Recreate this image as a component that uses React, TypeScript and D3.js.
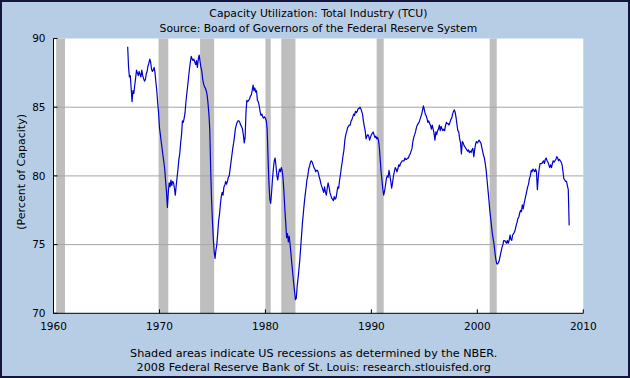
import React from "react";
import * as d3 from "d3";

const W = 630;
const H = 378;

const title1 = "Capacity Utilization: Total Industry (TCU)";
const title2 = "Source: Board of Governors of the Federal Reserve System";
const yTitle = "(Percent of Capacity)";
const note1 = "Shaded areas indicate US recessions as determined by the NBER.";
const note2 = "2008 Federal Reserve Bank of St. Louis: research.stlouisfed.org";

const xTicks = [1960, 1970, 1980, 1990, 2000, 2010];
const yTicks = [70, 75, 80, 85, 90];

const recessionPeaks = ["1960-04", "1969-12", "1973-11", "1980-01", "1981-07", "1990-07", "2001-03"];
const recessionTroughs = ["1961-02", "1970-11", "1975-03", "1980-07", "1982-11", "1991-03", "2001-11"];

const seriesStartYear = 1967; // monthly, starting January 1967

const tcu1960s = [
  89.4, 87.9, 87.2, 87.3, 86.4, 85.4, 86.2, 86.0, 86.6, 87.1, 87.7, 87.5, // 1967
  87.3, 87.6, 87.4, 87.2, 87.7, 87.3, 87.1, 86.9, 87.0, 87.4, 87.6, 88.0, // 1968
  88.2, 88.5, 88.3, 87.8, 87.6, 87.7, 87.9, 87.5, 86.8, 86.2, 85.3, 84.6, // 1969
];
const tcu1970s = [
  83.5, 83.0, 82.5, 82.0, 81.5, 81.0, 80.5, 79.6, 78.8, 77.7, 78.8, 79.5, // 1970
  79.2, 79.7, 79.3, 79.6, 79.5, 79.1, 78.6, 79.3, 79.9, 80.5, 81.2, 81.6, // 1971
  82.4, 83.0, 84.0, 83.9, 84.2, 84.6, 85.4, 86.0, 86.6, 87.2, 87.8, 88.3, // 1972
  88.7, 88.5, 88.4, 88.5, 88.3, 88.1, 88.4, 87.9, 88.5, 88.8, 88.3, 87.9, // 1973
  87.6, 87.0, 86.7, 86.5, 86.4, 86.2, 85.9, 85.3, 84.5, 83.4, 80.5, 78.3, // 1974
  76.7, 75.4, 74.5, 74.0, 74.6, 75.0, 75.8, 76.7, 77.2, 77.9, 78.5, 78.8, // 1975
  78.6, 79.2, 79.3, 79.6, 79.4, 79.6, 79.9, 80.0, 80.5, 81.0, 81.5, 82.0, // 1976
  82.4, 82.9, 83.4, 83.7, 83.9, 84.0, 84.0, 83.9, 83.7, 83.6, 83.4, 83.0, // 1977
  82.4, 82.8, 84.6, 85.5, 85.4, 85.5, 85.6, 85.8, 85.9, 86.2, 86.6, 86.2, // 1978
  86.4, 86.1, 86.2, 85.5, 85.4, 85.1, 84.7, 84.4, 84.5, 84.3, 84.2, 84.3, // 1979
];
const tcu1980s = [
  84.2, 84.0, 83.4, 81.3, 79.5, 78.3, 78.0, 78.8, 79.8, 80.5, 81.1, 81.3, // 1980
  80.7, 80.0, 79.7, 80.2, 80.5, 80.3, 80.6, 80.4, 79.8, 78.8, 77.6, 76.6, // 1981
  75.5, 75.8, 75.2, 75.6, 75.0, 74.3, 73.6, 72.9, 72.2, 71.6, 71.0, 71.1, // 1982
  72.0, 72.6, 73.2, 73.9, 74.8, 75.7, 76.6, 77.3, 78.0, 78.6, 79.1, 79.7, // 1983
  80.0, 80.5, 80.7, 81.0, 81.1, 81.0, 80.8, 80.6, 80.5, 80.3, 80.4, 80.4, // 1984
  80.2, 79.9, 79.7, 79.4, 79.2, 79.0, 78.8, 79.2, 78.8, 78.6, 79.1, 79.5, // 1985
  79.2, 78.8, 78.6, 78.4, 78.3, 78.2, 78.5, 78.3, 78.4, 78.8, 79.2, 79.1, // 1986
  79.7, 80.1, 80.6, 81.0, 81.5, 81.9, 82.6, 83.0, 83.2, 83.5, 83.6, 83.7, // 1987
  83.7, 84.0, 84.1, 84.3, 84.5, 84.4, 84.7, 84.6, 84.7, 84.9, 84.9, 85.0, // 1988
  84.9, 84.7, 84.5, 84.0, 83.6, 83.3, 82.7, 82.9, 83.0, 82.9, 82.6, 82.8, // 1989
];
const tcu1990s = [
  83.0, 83.1, 83.2, 83.0, 82.8, 82.9, 82.7, 82.8, 82.6, 82.1, 81.2, 80.3, // 1990
  79.7, 79.0, 78.6, 78.9, 79.3, 79.8, 80.0, 79.9, 80.4, 80.0, 79.6, 79.1, // 1991
  79.5, 80.0, 80.3, 80.6, 80.5, 80.3, 80.5, 80.8, 80.7, 80.9, 81.0, 81.1, // 1992
  81.1, 81.1, 81.3, 81.2, 81.2, 81.3, 81.3, 81.5, 81.6, 81.8, 82.0, 82.5, // 1993
  82.8, 83.0, 83.2, 83.5, 83.7, 83.8, 83.9, 84.1, 84.3, 84.5, 84.8, 85.1, // 1994
  84.8, 84.5, 84.4, 84.2, 83.9, 84.0, 83.8, 83.7, 83.4, 83.7, 83.4, 83.1, // 1995
  82.6, 83.2, 83.0, 83.3, 83.4, 83.7, 83.3, 83.6, 83.4, 83.3, 83.4, 83.3, // 1996
  83.7, 83.9, 83.8, 83.8, 83.7, 83.9, 84.1, 84.2, 84.5, 84.7, 84.8, 84.6, // 1997
  84.2, 83.7, 83.3, 83.2, 82.7, 82.4, 81.6, 82.5, 82.4, 82.2, 82.1, 82.0, // 1998
  81.9, 81.8, 81.9, 81.7, 81.8, 81.7, 81.9, 82.0, 81.4, 81.9, 82.3, 82.5, // 1999
];
const tcu2000s = [
  82.4, 82.5, 82.6, 82.5, 82.4, 82.1, 81.8, 81.5, 81.3, 80.9, 80.4, 79.7, // 2000
  79.0, 78.3, 77.6, 77.0, 76.4, 75.8, 75.4, 75.0, 74.4, 73.9, 73.6, 73.6, // 2001
  73.7, 73.9, 74.2, 74.5, 74.8, 75.0, 75.3, 75.3, 75.2, 75.1, 75.3, 75.1, // 2002
  75.3, 75.7, 75.4, 75.3, 75.7, 75.8, 75.9, 76.1, 76.4, 76.6, 76.9, 77.0, // 2003
  77.3, 77.5, 77.4, 77.9, 77.6, 78.0, 78.3, 78.6, 78.9, 79.2, 79.4, 79.8, // 2004
  80.0, 80.4, 80.3, 80.5, 80.4, 80.3, 80.5, 80.3, 79.0, 79.9, 80.5, 80.9, // 2005
  80.9, 80.9, 81.0, 81.1, 80.9, 81.2, 81.3, 81.1, 81.0, 80.8, 80.6, 80.8, // 2006
  80.6, 80.9, 81.1, 81.0, 81.1, 81.2, 81.4, 81.3, 81.1, 81.2, 81.1, 81.0, // 2007
  80.8, 80.3, 79.8, 79.7, 79.6, 79.6, 79.3, 79.0, 76.4, // 2008
];

const FONT = "'DejaVu Sans', Verdana, Tahoma, sans-serif";
const BG = "#B7CDE6";

const parseMonth = (s: string) => {
  const [y, m] = s.split("-").map(Number);
  return new Date(y, m - 1, 1);
};

export default function App() {
  const values = [...tcu1960s, ...tcu1970s, ...tcu1980s, ...tcu1990s, ...tcu2000s];
  const data = values.map((v, i) => ({ date: new Date(seriesStartYear, i, 1), value: v }));

  const left = 53.5;
  const right = 583.3;
  const top = 38.5;
  const bottom = 313.3;

  const x = d3
    .scaleTime()
    .domain([new Date(xTicks[0], 0, 1), new Date(xTicks[xTicks.length - 1], 0, 1)])
    .range([left, right]);
  const y = d3.scaleLinear().domain([70, 90]).range([bottom, top]);

  const line = d3
    .line<{ date: Date; value: number }>()
    .x((d) => x(d.date))
    .y((d) => y(d.value));

  const bands = recessionPeaks.map((p, i) => ({
    x0: x(parseMonth(p)),
    x1: x(parseMonth(recessionTroughs[i])),
  }));

  const cx = (left + right) / 2;

  return (
    <div style={{ position: "fixed", left: 0, top: 0, width: W, height: H }}>
      <svg width={W} height={H} style={{ display: "block" }} fontFamily={FONT}>
        <rect x={1} y={1} width={W - 2} height={H - 2} fill={BG} stroke="#14143c" strokeWidth={2} />
        <rect x={left} y={top} width={right - left} height={bottom - top} fill="#ffffff" />
        {bands.map((b, i) => (
          <rect key={i} x={b.x0} y={top} width={Math.max(1, b.x1 - b.x0)} height={bottom - top} fill="#BEBEBE" />
        ))}
        {yTicks
          .filter((t) => t !== 70 && t !== 90)
          .map((t) => (
            <line key={t} x1={left} x2={right} y1={y(t)} y2={y(t)} stroke="#A6A6A6" strokeWidth={1} />
          ))}
        <path d={line(data) ?? ""} fill="none" stroke="#0000CC" strokeWidth={1.2} strokeLinejoin="round" />
        {/* axes */}
        <line x1={left} x2={left} y1={top} y2={bottom} stroke="#000" strokeWidth={1} />
        <line x1={left} x2={right} y1={bottom} y2={bottom} stroke="#000" strokeWidth={1} />
        {yTicks.map((t) => (
          <g key={t}>
            <line x1={left} x2={left + 4} y1={y(t)} y2={y(t)} stroke="#000" strokeWidth={1} />
            <text x={45.5} y={y(t)} dy="0.35em" textAnchor="end" fontSize={10.5} fill="#000">
              {t}
            </text>
          </g>
        ))}
        {xTicks.map((t) => {
          const xx = x(new Date(t, 0, 1));
          return (
            <g key={t}>
              <line x1={xx} x2={xx} y1={bottom} y2={bottom - 4} stroke="#000" strokeWidth={1} />
              <text x={xx} y={329.5} textAnchor="middle" fontSize={10.5} fill="#000">
                {t}
              </text>
            </g>
          );
        })}
        <text x={cx} y={16.5} textAnchor="middle" fontSize={10.8} fill="#000">
          {title1}
        </text>
        <text x={cx} y={32} textAnchor="middle" fontSize={10.8} fill="#000">
          {title2}
        </text>
        <text
          transform={`translate(21,${(top + bottom) / 2 - 4}) rotate(-90)`}
          textAnchor="middle"
          dy="0.35em"
          fontSize={11}
          fill="#000"
        >
          {yTitle}
        </text>
        <text x={313.7} y={357} textAnchor="middle" fontSize={11.2} fill="#000">
          {note1}
        </text>
        <text x={313.7} y={371} textAnchor="middle" fontSize={11.2} fill="#000">
          {note2}
        </text>
      </svg>
    </div>
  );
}
